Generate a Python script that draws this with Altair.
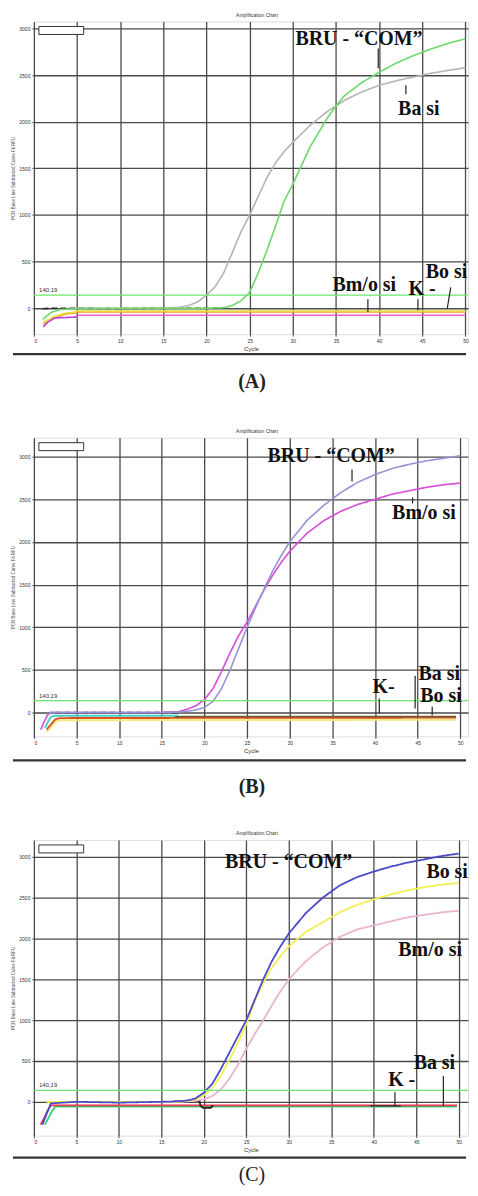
import altair as alt
import pandas as pd

# ================= data: panel (A) =================
A_COM_CYC = [1, 2, 3, 4, 5, 10, 15, 20, 22, 23, 24, 25, 26, 27, 28, 29, 30, 32, 34, 35, 36, 38, 40, 42, 44, 46, 48, 50]
A_COM_RFU = [-120, -45, -15, -8, -5, 0, 0, 0, 5, 30, 80, 170, 380, 620, 880, 1150, 1330, 1730, 2040, 2170, 2280, 2420, 2530, 2630, 2710, 2780, 2840, 2890]
A_BA_CYC = [5, 10, 15, 17, 18, 19, 20, 21, 22, 23, 24, 25, 26, 27, 28, 29, 30, 32, 34, 35, 36, 38, 40, 42, 44, 46, 48, 50]
A_BA_RFU = [0, -5, 0, 10, 30, 70, 140, 230, 380, 600, 820, 1000, 1200, 1400, 1560, 1680, 1780, 1960, 2110, 2170, 2230, 2320, 2390, 2440, 2480, 2520, 2550, 2580]
A_K_CYC = [1, 2, 3, 5, 10, 15, 20, 22]
A_K_RFU = [-5, 0, 0, 0, -5, 0, 0, 0]
A_OR_CYC = [1.1, 2.3, 3.5, 4.8, 5, 50]
A_OR_RFU = [-170, -110, -65, -50, -40, -40]
A_YE_CYC = [1.1, 2.3, 3.5, 4.8, 5, 50]
A_YE_RFU = [-150, -90, -55, -40, -30, -30]
A_PU_CYC = [1.1, 1.6, 2.4, 3.5, 4.9]
A_PU_RFU = [-200, -150, -105, -100, -95]
A_PI_CYC = [4.9, 5, 50]
A_PI_RFU = [-95, -75, -75]

A_TEXT = ["BRU - \u201cCOM\u201d", "Ba si", "Bm/o si", "K -", "Bo si"]
A_TEXT_CYC = [30.3, 42.2, 34.6, 43.4, 45.4]
A_TEXT_RFU = [2818, 2071, 181, 139, 320]
A_PTR_C1 = [39.9, 43.1, 38.7, 44.5, 48.3]
A_PTR_R1 = [2786, 2391, 96, 96, 224]
A_PTR_C2 = [39.9, 43.1, 38.7, 44.5, 47.9]
A_PTR_R2 = [2573, 2295, -43, -21, 0]

# ================= data: panel (B) =================
B_COM_CYC = [1.5, 2, 5, 10, 15, 17, 18, 19, 20, 21, 22, 23, 24, 25, 26, 27, 28, 29, 30, 32, 34, 36, 38, 40, 42, 44, 46, 48, 50]
B_COM_RFU = [-20, 0, 0, 0, 0, 5, 15, 30, 60, 130, 280, 500, 750, 1000, 1230, 1450, 1660, 1840, 2000, 2250, 2430, 2580, 2700, 2790, 2860, 2910, 2950, 2980, 3010]
B_BMO_CYC = [0.8, 1.2, 1.6, 2, 5, 10, 15, 17, 18, 19, 20, 21, 22, 23, 24, 25, 26, 27, 28, 29, 30, 32, 34, 36, 38, 40, 42, 44, 46, 48, 50]
B_BMO_RFU = [-200, -110, -30, 0, 0, 0, 0, 10, 40, 80, 150, 280, 480, 700, 900, 1060, 1250, 1440, 1610, 1760, 1890, 2100, 2250, 2360, 2440, 2500, 2560, 2600, 2640, 2670, 2690]
B_K_CYC = [1.5, 2, 5, 10, 15, 17]
B_K_RFU = [-20, 0, 0, 0, 0, 0]
B_CY_CYC = [1.3, 1.7, 2, 2.5, 17]
B_CY_RFU = [-180, -100, -50, -38, -38]
B_YE_CYC = [1.5, 2, 2.5, 3, 49.5]
B_YE_RFU = [-230, -170, -110, -90, -85]
B_RE_CYC = [1.5, 2, 2.5, 3, 49.5]
B_RE_RFU = [-200, -140, -80, -65, -60]
B_DK_CYC = [16.5, 17.5, 49.5]
B_DK_RFU = [-55, -48, -48]

B_TEXT = ["BRU - \u201cCOM\u201d", "Bm/o si", "K-", "Ba si", "Bo si"]
B_TEXT_CYC = [27.4, 42.0, 39.7, 45.1, 45.3]
B_TEXT_RFU = [2942, 2264, 233, 385, 128]
B_PTR_C1 = [37.3, 44.4, 40.5, 44.7, 46.7]
B_PTR_R1 = [2848, 2521, 163, 432, 70]
B_PTR_C2 = [37.3, 44.4, 40.5, 44.7, 46.7]
B_PTR_R2 = [2708, 2451, -12, 47, -35]

# ================= data: panel (C) =================
C_COM_CYC = [1, 1.5, 2, 5, 10, 15, 17, 18, 19, 20, 21, 22, 23, 24, 25, 26, 27, 28, 29, 30, 32, 34, 36, 38, 40, 42, 44, 46, 48, 50]
C_COM_RFU = [-280, -150, -20, 0, -10, 0, 5, 15, 40, 110, 220, 400, 600, 800, 1000, 1250, 1500, 1720, 1900, 2060, 2310, 2500, 2650, 2750, 2820, 2880, 2930, 2970, 3010, 3040]
C_BO_CYC = [1.5, 2, 5, 10, 15, 17, 18, 19, 20, 21, 22, 23, 24, 25, 26, 27, 28, 29, 30, 32, 34, 36, 38, 40, 42, 44, 46, 48, 50]
C_BO_RFU = [-20, 0, 0, 0, 0, 0, 10, 30, 80, 170, 320, 510, 720, 950, 1230, 1460, 1640, 1780, 1900, 2080, 2200, 2320, 2410, 2480, 2540, 2590, 2630, 2660, 2680]
C_BMO_CYC = [2, 5, 10, 15, 17, 18, 19, 20, 21, 22, 23, 24, 25, 26, 27, 28, 29, 30, 32, 34, 36, 38, 40, 42, 44, 46, 48, 50]
C_BMO_RFU = [0, 0, 0, 0, 0, 5, 10, 30, 70, 150, 280, 450, 650, 830, 1000, 1180, 1350, 1500, 1720, 1890, 2020, 2110, 2160, 2210, 2260, 2290, 2320, 2340]
C_RE_CYC = [0.8, 1.2, 1.6, 2, 49.8]
C_RE_RFU = [-280, -200, -110, -45, -45]
C_GR_CYC = [1.3, 1.7, 2.1, 2.5, 49.8]
C_GR_RFU = [-280, -200, -120, -60, -60]
C_K_CYC = [16.5, 18, 19.5, 19.6, 19.9, 20.8, 21.1]
C_K_RFU = [5, 5, 10, -45, -75, -75, -45]

C_TEXT = ["BRU - \u201cCOM\u201d", "Bo si", "Bm/o si", "K -", "Ba si"]
C_TEXT_CYC = [22.5, 46.2, 42.9, 41.7, 44.7]
C_TEXT_RFU = [2866, 2744, 1780, 195, 402]
C_PTR_C1 = [42.5, 39.6, 48.2]
C_PTR_R1 = [120, -50, 317]
C_PTR_C2 = [42.5, 43.2, 48.2]
C_PTR_R2 = [-45, -50, -49]

X_TICKS = [0, 5, 10, 15, 20, 25, 30, 35, 40, 45, 50]
Y_TICKS = [0, 500, 1000, 1500, 2000, 2500, 3000]
THRESHOLD = [140.19]
THRESHOLD_LABEL = ["140,19"]

# ================= styles =================
SANS = "Liberation Sans"
SERIF = "Liberation Serif"
SOLID = [1, 0]

A_CURVES = [("aK", A_K_CYC, A_K_RFU), ("aOr", A_OR_CYC, A_OR_RFU), ("aYe", A_YE_CYC, A_YE_RFU),
            ("aPi", A_PI_CYC, A_PI_RFU), ("aPu", A_PU_CYC, A_PU_RFU),
            ("aBa", A_BA_CYC, A_BA_RFU), ("aCOM", A_COM_CYC, A_COM_RFU)]
A_STYLE = {"aK": ("#2a2a2a", 1.6, [6, 3]), "aOr": ("#f0a020", 1.6, SOLID), "aYe": ("#e8e040", 1.4, SOLID),
           "aPi": ("#f060c8", 3.0, SOLID), "aPu": ("#c040e0", 1.2, SOLID),
           "aBa": ("#b4b4b4", 1.3, SOLID), "aCOM": ("#6cd86c", 1.4, SOLID)}

B_CURVES = [("bYe", B_YE_CYC, B_YE_RFU), ("bCy", B_CY_CYC, B_CY_RFU), ("bRe", B_RE_CYC, B_RE_RFU),
            ("bDk", B_DK_CYC, B_DK_RFU), ("bK", B_K_CYC, B_K_RFU),
            ("bBmo", B_BMO_CYC, B_BMO_RFU), ("bCOM", B_COM_CYC, B_COM_RFU)]
B_STYLE = {"bYe": ("#f0ea80", 2.0, SOLID), "bCy": ("#40d0c0", 1.6, SOLID), "bRe": ("#e05020", 2.2, SOLID),
           "bDk": ("#7a5a2a", 1.0, SOLID), "bK": ("#303060", 1.6, [6, 3]),
           "bBmo": ("#d850d8", 1.3, SOLID), "bCOM": ("#9494d4", 1.3, SOLID)}

C_CURVES = [("cGr", C_GR_CYC, C_GR_RFU), ("cRe", C_RE_CYC, C_RE_RFU), ("cK", C_K_CYC, C_K_RFU),
            ("cBmo", C_BMO_CYC, C_BMO_RFU), ("cBo", C_BO_CYC, C_BO_RFU), ("cCOM", C_COM_CYC, C_COM_RFU)]
C_STYLE = {"cGr": ("#30d070", 1.8, SOLID), "cRe": ("#f03050", 1.8, SOLID), "cK": ("#222222", 1.4, SOLID),
           "cBmo": ("#eab4cc", 1.3, SOLID), "cBo": ("#f2f050", 1.5, SOLID), "cCOM": ("#4a4acc", 1.4, SOLID)}

GRID = "#4a4a4a"
PANEL_W = 436


def make_panel(curves, style, texts, ptrs, letter, bold_letter, height, xmax, ydom,
               first, sep_dy, letter_dy):
    width = PANEL_W
    rows = []
    for name, cyc, val in curves:
        for c, v in zip(cyc, val):
            rows.append({"series": name, "cycle": c, "rfu": v})
    df = pd.DataFrame(rows)
    names = [c[0] for c in curves]
    xs = alt.Scale(domain=[0, xmax], nice=False, zero=False)
    ys = alt.Scale(domain=ydom, nice=False, zero=False)
    xax = alt.Axis(values=X_TICKS, title="Cycle", labelFontSize=5, titleFontSize=6, titleFontWeight="normal",
                   labelPadding=2, tickSize=2, titlePadding=2, grid=True, gridColor=GRID, gridWidth=1.3,
                   domain=False, labelColor="#333", titleColor="#333", tickColor=GRID, labelFont=SANS,
                   titleFont=SANS)
    yax = alt.Axis(values=Y_TICKS, title="PCR Base Line Subtracted Curve Fit RFU", labelFontSize=5,
                   titleFontSize=4.5, titleFontWeight="normal", labelPadding=2, tickSize=2, titlePadding=3,
                   grid=True, gridColor=GRID, gridWidth=1.3, domain=False, labelColor="#333",
                   titleColor="#555", tickColor=GRID, format="d", labelFont=SANS, titleFont=SANS)

    def X(f):
        return alt.X(f, type="quantitative", scale=xs, axis=xax)

    def Y(f):
        return alt.Y(f, type="quantitative", scale=ys, axis=yax)

    lines = alt.Chart(df).mark_line(clip=True).encode(
        x=X("cycle"), y=Y("rfu"),
        color=alt.Color("series:N", scale=alt.Scale(domain=names, range=[style[n][0] for n in names]), legend=None),
        strokeWidth=alt.StrokeWidth("series:N", scale=alt.Scale(domain=names, range=[style[n][1] for n in names]), legend=None),
        strokeDash=alt.StrokeDash("series:N", scale=alt.Scale(domain=names, range=[style[n][2] for n in names]), legend=None),
        order=alt.Order("cycle:Q"),
    )

    thr_df = pd.DataFrame({"rfu": THRESHOLD, "label": THRESHOLD_LABEL, "cycle": [0.6]})
    thr = alt.Chart(thr_df).mark_rule(color="#6ee66e", strokeWidth=1.3).encode(y=Y("rfu"))
    thr_lab = alt.Chart(thr_df).mark_text(font=SANS, fontSize=6, align="left", baseline="bottom", dy=-2,
                                          color="#333").encode(x=X("cycle"), y=Y("rfu"), text="label:N")

    t_names, t_c, t_r = texts
    txt_df = pd.DataFrame({"t": t_names, "cycle": t_c, "rfu": t_r})
    txt = alt.Chart(txt_df).mark_text(font=SERIF, fontSize=20, fontWeight="bold", align="left",
                                      baseline="alphabetic", color="#111").encode(
        x=X("cycle"), y=Y("rfu"), text="t:N")

    c1, r1, c2, r2 = ptrs
    ptr_df = pd.DataFrame({"cycle": c1, "rfu": r1, "cycle2": c2, "rfu2": r2})
    ptr = alt.Chart(ptr_df).mark_rule(color="#222", strokeWidth=1.2).encode(
        x=X("cycle"), y=Y("rfu"), x2="cycle2", y2="rfu2")

    one = pd.DataFrame({"k": [0]})
    legend_box = alt.Chart(one).mark_rect(fill="white", stroke="#333", strokeWidth=1).encode(
        x=alt.value(5), x2=alt.value(50), y=alt.value(5), y2=alt.value(13))
    title = alt.Chart(one).mark_text(font=SANS, fontSize=5, color="#333", baseline="middle").encode(
        x=alt.value(224), y=alt.value(-7), text=alt.value("Amplification Chart"))
    sep = alt.Chart(one).mark_rule(color="#333", strokeWidth=2.2).encode(
        x=alt.value(-21), x2=alt.value(width - 2), y=alt.value(height + sep_dy))
    lab = alt.Chart(one).mark_text(font=SERIF, fontSize=20, fontWeight="bold" if bold_letter else "normal",
                                   color="#222", baseline="alphabetic").encode(
        x=alt.value(219), y=alt.value(height + letter_dy), text=alt.value(letter))
    layers = [lines, thr, thr_lab, ptr, txt, legend_box, title, sep, lab]
    if first:
        fixer = alt.Chart(one).mark_rule(color="white", strokeWidth=1).encode(
            x=alt.value(-24.5), x2=alt.value(-20), y=alt.value(-9.5))
        layers.append(fixer)
    return alt.layer(*layers).properties(width=width, height=height)


pa = make_panel(A_CURVES, A_STYLE, (A_TEXT, A_TEXT_CYC, A_TEXT_RFU),
                (A_PTR_C1, A_PTR_R1, A_PTR_C2, A_PTR_R2), "(A)", True, 314, 50.3, [-278, 3075], True, 20, 54)
pb = make_panel(B_CURVES, B_STYLE, (B_TEXT, B_TEXT_CYC, B_TEXT_RFU),
                (B_PTR_C1, B_PTR_R1, B_PTR_C2, B_PTR_R2), "(B)", True, 300, 50.9, [-280, 3222], False, 24, 57)
pc = make_panel(C_CURVES, C_STYLE, (C_TEXT, C_TEXT_CYC, C_TEXT_RFU),
                (C_PTR_C1, C_PTR_R1, C_PTR_C2, C_PTR_R2), "(C)", False, 297, 51.1, [-415, 3207], False, 22, 46)

chart = alt.vconcat(pa, pb, pc, spacing=104, bounds="flush", padding=0).resolve_scale(
    color="independent", strokeWidth="independent", strokeDash="independent"
).configure_view(stroke="#333", strokeWidth=1).configure(background="white")

chart.save("out.html", embed_options={"renderer": "svg", "actions": False})
